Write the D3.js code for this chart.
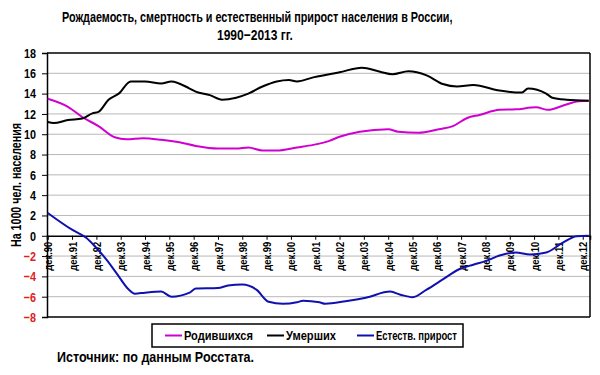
<!DOCTYPE html>
<html>
<head>
<meta charset="utf-8">
<script src="https://cdnjs.cloudflare.com/ajax/libs/d3/7.8.5/d3.min.js"></script>
<style>
  body { margin: 0; background: #fff; }
  text { font-family: "Liberation Sans", Arial, sans-serif; font-weight: bold; }
</style>
</head>
<body>
<div id="chart"></div>
<script>
'use strict';

// Рождаемость (родившихся на 1000 чел.)
var birthDates = ["1990-12","1991-10","1992-05","1993-01","1993-09","1994-03","1994-11","1995-08","1996-05","1997-01",
    "1997-12","1998-09","1999-03","1999-10","2000-05","2001-03","2001-11","2002-07","2002-12","2003-10",
    "2004-12","2005-05","2006-03","2007-01","2007-08","2008-03","2008-09","2009-07","2010-03","2011-01",
    "2011-07","2012-02","2012-10","2013-03"];
var births = [13.5,12.7,11.7,10.8,9.7,9.5,9.6,9.45,9.2,8.85,
    8.6,8.6,8.7,8.4,8.4,8.7,8.95,9.35,9.75,10.25,
    10.5,10.25,10.15,10.5,10.8,11.6,11.9,12.4,12.45,12.65,
    12.4,12.8,13.25,13.3];

// Смертность (умерших на 1000 чел.)
var deathDates = ["1990-12","1991-03","1991-10","1992-05","1992-10","1993-01","1993-06","1993-11","1994-05","1994-12",
    "1995-08","1996-01","1996-10","1997-01","1997-08","1998-02","1998-09","1999-03","1999-10","2000-05",
    "2000-11","2001-03","2001-11","2002-07","2002-12","2003-11","2004-08","2005-02","2005-10","2006-07",
    "2007-03","2007-10","2008-06","2009-07","2010-06","2010-09","2011-06","2011-09","2012-04","2013-03"];
var deaths = [11.2,11.1,11.4,11.55,12.05,12.2,13.4,14.0,15.2,15.2,
    15.0,15.2,14.5,14.2,13.85,13.4,13.6,14.0,14.7,15.2,
    15.35,15.2,15.6,15.9,16.1,16.55,16.15,15.9,16.2,15.8,
    14.95,14.7,14.85,14.3,14.1,14.5,14.0,13.6,13.4,13.3];

// Естественный прирост
var growthDates = ["1990-12","1991-12","1992-07","1992-12","1993-05","1993-10","1994-04","1994-07","1994-12","1995-08",
    "1996-01","1996-10","1997-01","1997-12","1998-05","1998-12","1999-07","2000-01","2000-08","2001-03",
    "2001-06","2002-02","2002-05","2003-03","2004-01","2005-01","2005-06","2005-12","2006-07","2007-03",
    "2007-11","2008-06","2008-12","2009-07","2010-03","2010-10","2011-06","2012-02","2012-09","2013-03"];
var growth = [2.25,0.6,-0.2,-1.2,-2.35,-3.7,-5.3,-5.7,-5.6,-5.5,
    -6.0,-5.6,-5.2,-5.15,-4.9,-4.8,-5.3,-6.5,-6.7,-6.55,
    -6.4,-6.55,-6.7,-6.45,-6.1,-5.5,-5.8,-6.05,-5.3,-4.3,
    -3.3,-2.85,-2.5,-1.95,-1.65,-1.85,-1.65,-0.7,-0.05,0.0];

var yTicks = [18,16,14,12,10,8,6,4,2,0,-2,-4,-6,-8];
var xTickYears = d3.range(1990, 2013);

var seriesNames = ["Родившихся", "Умерших", "Естеств. прирост"];
var seriesColors = ["#d000d0", "#000000", "#1010b0"];

var parse = d3.timeParse("%Y-%m");
var W = 600, H = 375;
var plotLeft = 47, plotRight = 590, plotTop = 53, plotBottom = 317;

// squeeze text to look like a narrow font
function narrow(sel, k) {
    sel.each(function () {
        var w = this.getComputedTextLength();
        d3.select(this).attr("textLength", w * k).attr("lengthAdjust", "spacingAndGlyphs");
    });
}

var svg = d3.select("#chart").append("svg").attr("width", W).attr("height", H);

var x = d3.scaleTime()
    .domain([new Date(1990, 10, 20), new Date(2013, 2, 20)])
    .range([plotLeft, plotRight]);
var y = d3.scaleLinear().domain([-8, 18]).range([plotBottom, plotTop]);

// title: squeezed by a group transform to the reference width
function squeezedText(px, py, width, size, str) {
    var g = svg.append("g");
    var t = g.append("text").style("font-size", size).text(str);
    var k = width / t.node().getComputedTextLength();
    g.attr("transform", "translate(" + px + "," + py + ") scale(" + k + ",1)");
    return t;
}
squeezedText(62, 22, 391, "15px", "Рождаемость, смертность и естественный прирост населения в России,");
squeezedText(217, 40, 76, "15px", "1990\u22122013 гг.");

// grid
svg.append("g").selectAll("line")
    .data(yTicks.filter(d => d !== 0 && d !== 18 && d !== -8))
    .enter().append("line")
    .attr("x1", plotLeft).attr("x2", plotRight)
    .attr("y1", d => y(d)).attr("y2", d => y(d))
    .attr("stroke", "#b8b8b8").attr("stroke-width", 1);

// y axis
var yAxis = svg.append("g").attr("transform", "translate(" + plotLeft + ",0)")
    .call(d3.axisLeft(y).tickValues(yTicks).tickSize(5).tickPadding(6));
yAxis.select(".domain").attr("stroke", "#000").attr("stroke-width", 1.5);
yAxis.selectAll(".tick line").attr("stroke", "#000");
yAxis.selectAll(".tick text")
    .style("font-size", "13.5px")
    .attr("fill", d => d < 0 ? "#e02020" : "#000")
    .call(narrow, 0.8);

svg.append("text")
    .attr("transform", "translate(21,185) rotate(-90)")
    .attr("text-anchor", "middle")
    .style("font-size", "14px")
    .attr("textLength", 124).attr("lengthAdjust", "spacingAndGlyphs")
    .text("На 1000 чел. населения");

// frame
svg.append("line").attr("x1", plotLeft).attr("x2", plotRight).attr("y1", plotTop).attr("y2", plotTop)
    .attr("stroke", "#000").attr("stroke-width", 1.5);
svg.append("line").attr("x1", plotRight).attr("x2", plotRight).attr("y1", plotTop).attr("y2", plotBottom)
    .attr("stroke", "#000").attr("stroke-width", 1.5);
svg.append("line").attr("x1", plotLeft).attr("x2", plotRight).attr("y1", plotBottom).attr("y2", plotBottom)
    .attr("stroke", "#000").attr("stroke-width", 1.5);

// x axis at zero
var xAxis = svg.append("g").attr("transform", "translate(0," + y(0) + ")")
    .call(d3.axisBottom(x)
        .tickValues(xTickYears.map(yr => new Date(yr, 11, 1)))
        .tickSize(4)
        .tickFormat(d => "дек." + d3.timeFormat("%y")(d)));
xAxis.select(".domain").attr("stroke", "#000").attr("stroke-width", 1.5);
xAxis.selectAll(".tick line").attr("stroke", "#000");
xAxis.selectAll(".tick text")
    .style("font-size", "11.5px")
    .attr("text-anchor", "end")
    .attr("transform", "rotate(-90)")
    .attr("x", -6).attr("y", 0).attr("dy", "0.35em")
    .attr("textLength", 29).attr("lengthAdjust", "spacingAndGlyphs");

// lines
var allSeries = [
    { dates: birthDates, values: births },
    { dates: deathDates, values: deaths },
    { dates: growthDates, values: growth }
];
var line = d3.line().x(d => x(d[0])).y(d => y(d[1])).curve(d3.curveMonotoneX);

allSeries.forEach(function (s, i) {
    var pts = s.dates.map((d, j) => [parse(d), s.values[j]]);
    svg.append("path")
        .datum(pts)
        .attr("d", line)
        .attr("fill", "none")
        .attr("stroke", seriesColors[i])
        .attr("stroke-width", 2);
});

// legend
var legend = svg.append("g");
legend.append("rect").attr("x", 152).attr("y", 324).attr("width", 311).attr("height", 23)
    .attr("fill", "#fff").attr("stroke", "#000").attr("stroke-width", 1.5);
var legendX = [165, 267, 357];
var legendTextW = [69, 50, 81];
seriesNames.forEach(function (name, i) {
    legend.append("line")
        .attr("x1", legendX[i]).attr("x2", legendX[i] + 17)
        .attr("y1", 335.5).attr("y2", 335.5)
        .attr("stroke", seriesColors[i]).attr("stroke-width", 2);
    legend.append("text")
        .attr("x", legendX[i] + 19).attr("y", 340)
        .style("font-size", "13px")
        .attr("textLength", legendTextW[i]).attr("lengthAdjust", "spacingAndGlyphs")
        .text(name);
});

// source
svg.append("text").attr("x", 57).attr("y", 362)
    .style("font-size", "14px")
    .attr("textLength", 197).attr("lengthAdjust", "spacingAndGlyphs")
    .text("Источник: по данным Росстата.");
</script>
</body>
</html>
